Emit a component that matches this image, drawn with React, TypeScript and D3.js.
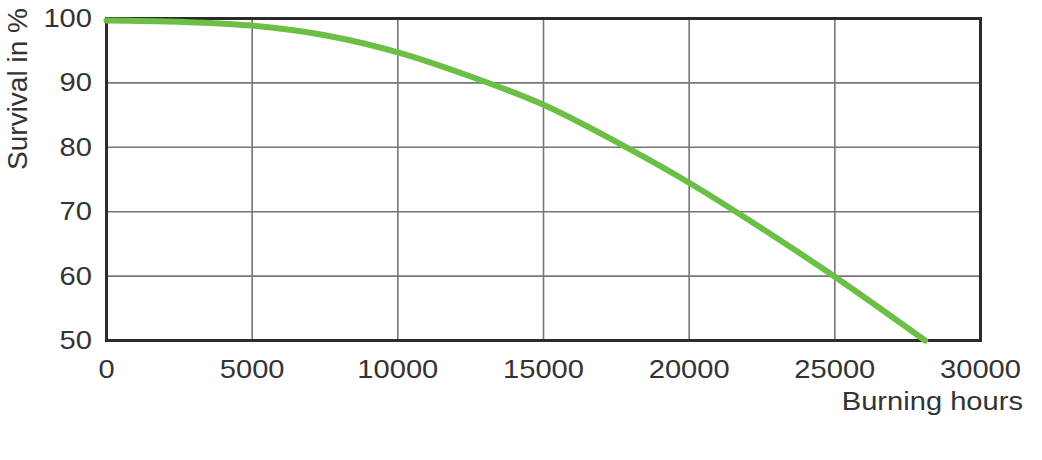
import React, { useEffect, useRef } from 'react';
import * as d3 from 'd3';

// curve
const hours = [0, 2500, 5000, 7500, 10000, 12500, 15000, 17500, 20000, 22500, 25000, 28100];
const survival = [99.7, 99.5, 98.9, 97.4, 94.75, 91.0, 86.6, 80.85, 74.5, 67.4, 59.9, 50];

const xTicks = [0, 5000, 10000, 15000, 20000, 25000, 30000];
const yTicks = [50, 60, 70, 80, 90, 100];

const W = 1042;
const H = 460;

export default function App() {
  const ref = useRef<SVGSVGElement>(null);

  useEffect(() => {
    if (!ref.current) return;
    const svg = d3.select(ref.current);
    svg.selectAll('*').remove();

    const margin = { left: 106.5, right: W - 980.5, top: 18.5, bottom: H - 340.5 };
    const x = d3.scaleLinear().domain([0, 30000]).range([margin.left, W - margin.right]);
    const y = d3.scaleLinear().domain([50, 100]).range([H - margin.bottom, margin.top]);

    const font = '"Liberation Sans", Arial, sans-serif';
    const textColor = '#333';
    const stretch = 1.12;

    // grid
    svg.append('g')
      .selectAll('line')
      .data(xTicks.slice(1, -1))
      .enter()
      .append('line')
      .attr('x1', d => x(d)).attr('x2', d => x(d))
      .attr('y1', y(50)).attr('y2', y(100))
      .attr('stroke', '#777').attr('stroke-width', 1.6);

    svg.append('g')
      .selectAll('line')
      .data(yTicks.slice(1, -1))
      .enter()
      .append('line')
      .attr('x1', x(0)).attr('x2', x(30000))
      .attr('y1', d => y(d)).attr('y2', d => y(d))
      .attr('stroke', '#777').attr('stroke-width', 1.6);

    // frame
    svg.append('rect')
      .attr('x', x(0)).attr('y', y(100))
      .attr('width', x(30000) - x(0)).attr('height', y(50) - y(100))
      .attr('fill', 'none').attr('stroke', '#2b2b2b').attr('stroke-width', 3);

    // curve
    const pts: [number, number][] = hours.map((h, i) => [h, survival[i]]);
    const line = d3.line<[number, number]>()
      .x(d => x(d[0]))
      .y(d => y(d[1]))
      .curve(d3.curveCatmullRom);
    svg.append('path')
      .datum(pts)
      .attr('d', line)
      .attr('fill', 'none')
      .attr('stroke', '#6cbf45')
      .attr('stroke-width', 6)
      .attr('stroke-linecap', 'round');

    // y tick labels
    svg.append('g')
      .selectAll('g')
      .data(yTicks)
      .enter()
      .append('g')
      .attr('transform', d => `translate(92,${y(d) + 8.5}) scale(${stretch},1)`)
      .append('text')
      .attr('text-anchor', 'end')
      .attr('font-family', font)
      .attr('font-size', 26)
      .attr('fill', textColor)
      .text(d => d);

    // x tick labels
    svg.append('g')
      .selectAll('g')
      .data(xTicks)
      .enter()
      .append('g')
      .attr('transform', d => `translate(${x(d)},378) scale(${stretch},1)`)
      .append('text')
      .attr('text-anchor', 'middle')
      .attr('font-family', font)
      .attr('font-size', 26)
      .attr('fill', textColor)
      .text(d => d);

    // axis titles
    svg.append('g')
      .attr('transform', `translate(1023,410) scale(${stretch},1)`)
      .append('text')
      .attr('text-anchor', 'end')
      .attr('font-family', font)
      .attr('font-size', 26)
      .attr('fill', textColor)
      .text('Burning hours');

    svg.append('text')
      .attr('transform', 'translate(27,89) rotate(-90)')
      .attr('text-anchor', 'middle')
      .attr('font-family', font)
      .attr('font-size', 28)
      .attr('fill', textColor)
      .text('Survival in %');
  }, []);

  return (
    <svg
      ref={ref}
      width={W}
      height={H}
      style={{ position: 'absolute', left: 0, top: 0, background: '#fff' }}
    />
  );
}
